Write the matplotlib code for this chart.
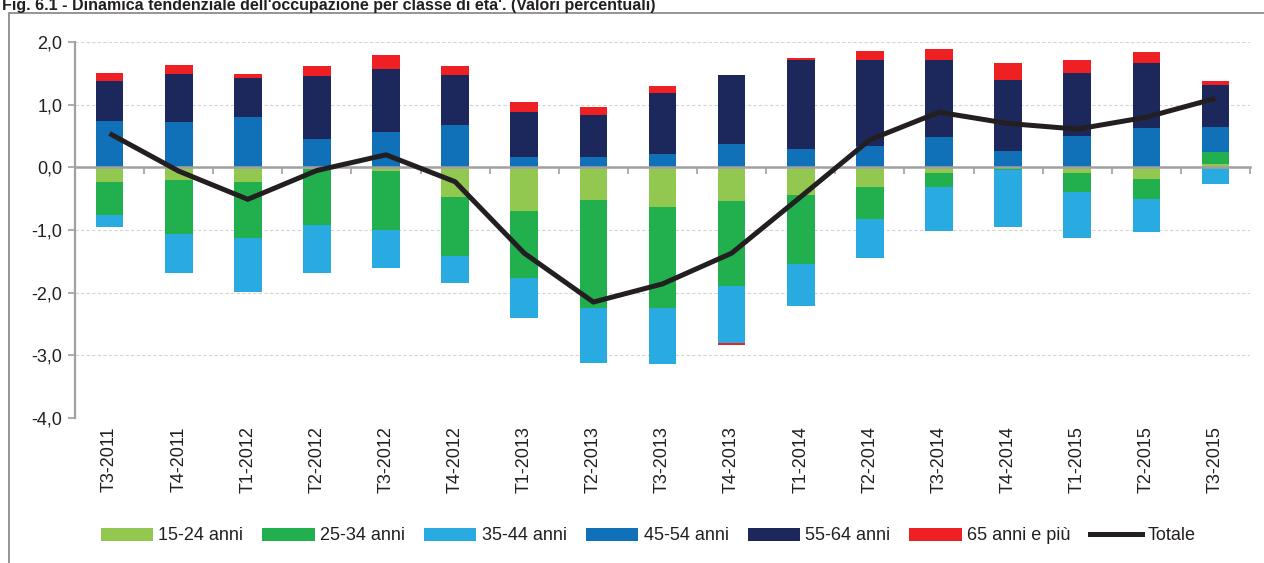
import numpy as np
import matplotlib
matplotlib.use("Agg")
import matplotlib.pyplot as plt
from matplotlib.patches import Rectangle, Patch
from matplotlib.lines import Line2D
from matplotlib.ticker import FuncFormatter

plt.rcParams['font.family'] = ['Liberation Sans', 'DejaVu Sans']

categories = ["T3-2011", "T4-2011", "T1-2012", "T2-2012", "T3-2012", "T4-2012",
              "T1-2013", "T2-2013", "T3-2013", "T4-2013", "T1-2014", "T2-2014",
              "T3-2014", "T4-2014", "T1-2015", "T2-2015", "T3-2015"]

a15_24 = [-0.23, -0.21, -0.23, -0.02, -0.06, -0.47, -0.69, -0.52, -0.63, -0.54,
          -0.44, -0.32, -0.09, -0.01, -0.09, -0.19, 0.05]
a25_34 = [-0.53, -0.85, -0.90, -0.90, -0.94, -0.94, -1.07, -1.73, -1.62, -1.35,
          -1.11, -0.50, -0.22, -0.03, -0.31, -0.31, 0.19]
a35_44 = [-0.20, -0.62, -0.86, -0.77, -0.60, -0.44, -0.64, -0.87, -0.89, -0.91,
          -0.67, -0.62, -0.70, -0.92, -0.72, -0.53, -0.27]
a45_54 = [0.74, 0.73, 0.80, 0.46, 0.57, 0.68, 0.17, 0.17, 0.21, 0.38,
          0.29, 0.34, 0.48, 0.26, 0.50, 0.62, 0.41]
a55_64 = [0.63, 0.76, 0.62, 1.00, 1.00, 0.79, 0.71, 0.66, 0.98, 1.09,
          1.43, 1.37, 1.24, 1.13, 1.01, 1.05, 0.66]
a65 = [0.13, 0.15, 0.07, 0.16, 0.23, 0.15, 0.17, 0.13, 0.10, -0.04,
       0.02, 0.15, 0.17, 0.28, 0.20, 0.17, 0.07]
totale = [0.54, -0.06, -0.51, -0.05, 0.20, -0.23, -1.37, -2.15, -1.86, -1.37,
          -0.47, 0.44, 0.88, 0.70, 0.61, 0.80, 1.10]

series_labels = ["15-24 anni", "25-34 anni", "35-44 anni", "45-54 anni",
                 "55-64 anni", "65 anni e più"]
series_values = [a15_24, a25_34, a35_44, a45_54, a55_64, a65]
colors = ["#92C850", "#22B04E", "#29ABE2", "#1070B8", "#1C285C", "#EE2024"]
line_color = "#231F20"
axis_gray = "#A0A0A0"

fig = plt.figure(figsize=(12.64, 5.63), dpi=100)
ax = fig.add_axes([75 / 1264, 1 - 418 / 563, (1250 - 75) / 1264, (418 - 42) / 563])

x = np.arange(len(categories))
pos_bottom = np.zeros(len(categories))
neg_bottom = np.zeros(len(categories))
for vals, col, lab in zip(series_values, colors, series_labels):
    v = np.array(vals, dtype=float)
    bottoms = np.where(v >= 0, pos_bottom, neg_bottom)
    ax.bar(x, v, width=0.40, bottom=bottoms, color=col, edgecolor='none',
           label=lab, zorder=2)
    pos_bottom = pos_bottom + np.where(v >= 0, v, 0)
    neg_bottom = neg_bottom + np.where(v < 0, v, 0)

ax.plot(x, totale, color=line_color, lw=3.6, zorder=4, solid_joinstyle='round',
        solid_capstyle='butt', label="Totale")

ax.set_xlim(-0.5, len(categories) - 0.5)
ax.set_ylim(-4, 2)
ax.set_yticks(np.arange(-4, 2.01, 1))
ax.yaxis.set_major_formatter(FuncFormatter(lambda v, p: f"{v:.1f}".replace('.', ',')))
ax.grid(axis='y', color='#D4D4D4', linestyle=(0, (3, 2)), linewidth=0.8, zorder=0)
ax.set_axisbelow(True)

for s in ['top', 'right']:
    ax.spines[s].set_visible(False)
ax.spines['left'].set_color(axis_gray)
ax.spines['left'].set_linewidth(1.6)
ax.spines['bottom'].set_position(('data', 0))
ax.spines['bottom'].set_color(axis_gray)
ax.spines['bottom'].set_linewidth(1.8)
ax.spines['bottom'].set_zorder(3)

ax.tick_params(axis='y', direction='out', length=5, width=1.2, color=axis_gray,
               labelsize=13, labelcolor='#231F20', pad=4)
ax.set_xticks(np.arange(0.5, len(categories), 1))
ax.tick_params(axis='x', direction='out', length=5, width=1.2, color=axis_gray,
               labelbottom=False)

sec = ax.secondary_xaxis('bottom')
sec.set_xticks(x)
sec.set_xticklabels(categories, rotation=90, fontsize=13, color='#231F20')
sec.tick_params(axis='x', length=0, pad=6)
sec.spines['bottom'].set_visible(False)

# Title at the very top of the image
fig.text(2 / 1264, 1 - 10 / 563,
         "Fig. 6.1 - Dinamica tendenziale dell'occupazione per classe di eta'. (Valori percentuali)",
         fontsize=11.5, fontweight='bold', color='#231F20', ha='left', va='baseline')

# Outer frame
fig.patches.append(Rectangle((8.5 / 1264, -0.05), 1.2, 1.05 - 13.5 / 563,
                             transform=fig.transFigure, fill=False,
                             edgecolor='#8C8C8C', linewidth=1.3, clip_on=False))

handles = [Patch(facecolor=c, edgecolor='none') for c in colors]
handles.append(Line2D([0], [0], color=line_color, lw=3.6))
labels = series_labels + ["Totale"]
fig.legend(handles, labels, loc='center', bbox_to_anchor=(648 / 1264, 1 - 536 / 563),
           ncol=7, frameon=False, fontsize=13, handlelength=2.9, handleheight=0.75,
           handletextpad=0.3, columnspacing=1.05, labelcolor='#231F20')

fig.savefig("out.png", dpi=100)
